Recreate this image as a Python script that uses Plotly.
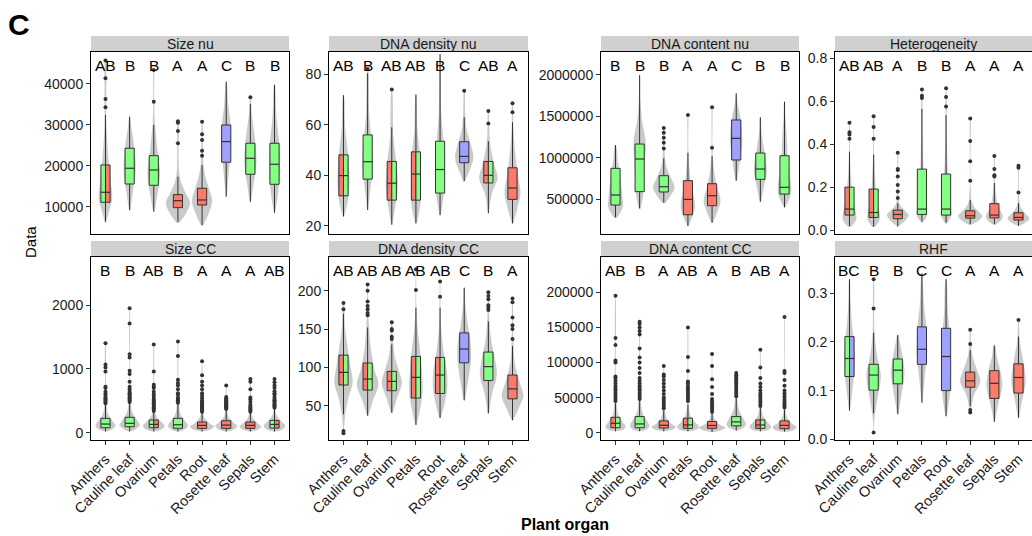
import plotly.graph_objects as go

ORGANS = ["Anthers", "Cauline leaf", "Ovarium", "Petals", "Root", "Rosette leaf", "Sepals", "Stem"]
PANELS = ["Size nu", "DNA density nu", "DNA content nu", "Heterogeneity",
          "Size CC", "DNA density CC", "DNA content CC", "RHF"]

# significance letters shown above each organ
LETTERS = {
    "Size nu":        ["AB", "B", "B", "A", "A", "C", "B", "B"],
    "DNA density nu": ["AB", "B", "AB", "AB", "B", "C", "AB", "A"],
    "DNA content nu": ["B", "B", "B", "A", "A", "C", "B", "B"],
    "Heterogeneity":  ["AB", "AB", "A", "B", "B", "A", "A", "A"],
    "Size CC":        ["B", "B", "AB", "B", "A", "A", "A", "AB"],
    "DNA density CC": ["AB", "AB", "AB", "AB", "AB", "C", "B", "A"],
    "DNA content CC": ["AB", "B", "A", "AB", "A", "B", "AB", "A"],
    "RHF":            ["BC", "B", "B", "C", "C", "A", "A", "A"],
}
# box fill groups (left half / right half when split)
FILLS = {
    "Size nu":        ["BA", "B", "B", "A", "A", "C", "B", "B"],
    "DNA density nu": ["AB", "B", "AB", "AB", "B", "C", "AB", "A"],
    "DNA content nu": ["B", "B", "B", "A", "A", "C", "B", "B"],
    "Heterogeneity":  ["AB", "AB", "A", "B", "B", "A", "A", "A"],
    "Size CC":        ["B", "B", "BA", "B", "A", "A", "A", "BA"],
    "DNA density CC": ["AB", "AB", "AB", "AB", "AB", "C", "B", "A"],
    "DNA content CC": ["AB", "B", "A", "AB", "A", "B", "AB", "A"],
    "RHF":            ["BC", "B", "B", "C", "C", "A", "A", "A"],
}

Q1 = {
    "Size nu":        [11076, 15550, 15230, 9760, 10410, 20860, 17920, 15470],
    "DNA density nu": [31.9, 38.5, 30.2, 30.2, 33.0, 45.0, 37.0, 30.5],
    "DNA content nu": [427e3, 589e3, 585e3, 310e3, 419e3, 972e3, 738e3, 560e3],
    "Heterogeneity":  [0.070, 0.059, 0.053, 0.073, 0.070, 0.056, 0.057, 0.047],
    "Size CC":        [78, 94, 78, 70, 68, 68, 68, 73],
    "DNA density CC": [77, 70.4, 69.6, 60, 66, 106, 83, 59],
    "DNA content CC": [7100, 7100, 6700, 6200, 6200, 9700, 6200, 5700],
    "RHF":            [0.129, 0.101, 0.114, 0.154, 0.100, 0.107, 0.084, 0.095],
}
MED = {
    "Size nu":        [13520, 19390, 18970, 11470, 11640, 25900, 21830, 20370],
    "DNA density nu": [39.9, 45.4, 36.9, 40.5, 42.3, 47.5, 40.0, 35.0],
    "DNA content nu": [548e3, 984e3, 649e3, 496e3, 540e3, 1234e3, 863e3, 641e3],
    "Heterogeneity":  [0.098, 0.082, 0.073, 0.098, 0.098, 0.067, 0.070, 0.059],
    "Size CC":        [136, 147, 130, 125, 115, 120, 115, 130],
    "DNA density CC": [93.5, 84.8, 81.7, 87, 90, 124, 101, 72],
    "DNA content CC": [13400, 12500, 10600, 11000, 10300, 15400, 11000, 10500],
    "RHF":            [0.166, 0.132, 0.142, 0.185, 0.170, 0.120, 0.115, 0.127],
}
Q3 = {
    "Size nu":        [20195, 24280, 22470, 12940, 14500, 29970, 25500, 25500],
    "DNA density nu": [48.1, 56.0, 45.5, 49.3, 53.5, 53.3, 45.5, 43.0],
    "DNA content nu": [871e3, 1165e3, 782e3, 722e3, 685e3, 1456e3, 1056e3, 1024e3],
    "Heterogeneity":  [0.200, 0.191, 0.093, 0.284, 0.261, 0.090, 0.123, 0.081],
    "Size CC":        [225, 241, 199, 225, 167, 188, 167, 193],
    "DNA density CC": [116, 105.7, 94.8, 114.3, 113, 145, 120, 90],
    "DNA content CC": [21900, 23000, 16800, 20700, 16000, 23000, 18200, 16800],
    "RHF":            [0.211, 0.154, 0.165, 0.231, 0.228, 0.138, 0.141, 0.155],
}
LOW = {
    "Size nu":        [6333, 9190, 8780, 6330, 5530, 12450, 11220, 8530],
    "DNA density nu": [23.7, 26.3, 20.5, 21.0, 24.3, 37.8, 25.0, 21.0],
    "DNA content nu": [278e3, 387e3, 456e3, 173e3, 214e3, 722e3, 468e3, 399e3],
    "Heterogeneity":  [0.019, 0.016, 0.016, 0.040, 0.036, 0.028, 0.028, 0.020],
    "Size CC":        [20, 20, 20, 20, 20, 20, 20, 20],
    "DNA density CC": [38.7, 37, 41, 25, 34, 57, 40, 31],
    "DNA content CC": [2000, 2000, 2000, 2000, 1000, 3000, 2000, 1500],
    "RHF":            [0.059, 0.053, 0.052, 0.075, 0.048, 0.068, 0.036, 0.044],
}
UP = {
    "Size nu":        [32420, 32000, 29970, 17340, 20200, 40560, 35110, 39750],
    "DNA density nu": [71.7, 80.4, 59.0, 72.0, 88.0, 63.0, 53.5, 61.0],
    "DNA content nu": [1153e3, 2000e3, 992e3, 1060e3, 1020e3, 1778e3, 1488e3, 1677e3],
    "Heterogeneity":  [0.365, 0.352, 0.125, 0.564, 0.535, 0.140, 0.220, 0.125],
    "Size CC":        [440, 460, 330, 450, 320, 360, 320, 370],
    "DNA density CC": [170, 152, 130, 178, 178, 204, 160, 128],
    "DNA content CC": [42000, 45000, 32000, 40000, 28000, 50000, 36000, 33000],
    "RHF":            [0.329, 0.219, 0.214, 0.341, 0.329, 0.183, 0.192, 0.211],
}
OUTLIERS = {
    "Size nu": [[34300, 36330, 41400, 45700], [], [35670, 43420], [25500, 28510, 30500, 30900],
                [22470, 23690, 26300, 27700, 30780], [], [36750], []],
    "DNA density nu": [[], [82.1], [74.0], [], [], [73.5], [60.5, 65.5], [65.0, 68.5]],
    "DNA content nu": [[], [], [1110e3, 1180e3, 1240e3, 1300e3, 1360e3], [1515e3], [1120e3, 1610e3],
                       [], [], []],
    "Heterogeneity": [[0.425, 0.445, 0.455, 0.50], [0.425, 0.48, 0.53],
                      [0.15, 0.18, 0.21, 0.25, 0.28, 0.285, 0.36], [0.615, 0.625, 0.655],
                      [0.575, 0.62, 0.66], [0.23, 0.32, 0.415, 0.52], [0.25, 0.255, 0.285, 0.345],
                      [0.175, 0.29, 0.30]],
    "Size CC": [[460, 480, 500, 520, 540, 560, 590, 610, 640, 700, 720, 960, 1020, 1070, 1400],
                [480, 500, 520, 540, 560, 580, 600, 620, 640, 680, 720, 800, 920, 970, 1180, 1230, 1710, 1950],
                [340, 360, 380, 400, 420, 440, 460, 480, 500, 520, 560, 600, 640, 700, 720, 750, 960, 1380],
                [470, 490, 510, 530, 550, 600, 620, 680, 740, 780, 830, 1200, 1430],
                [330, 345, 360, 375, 390, 405, 420, 440, 460, 480, 500, 540, 580, 620, 680, 740, 800, 900, 1120],
                [370, 385, 400, 415, 430, 445, 460, 475, 490, 505, 520, 540, 560, 740],
                [330, 350, 370, 390, 410, 440, 480, 520, 550, 680, 800, 840],
                [390, 410, 430, 450, 470, 490, 510, 530, 560, 600, 620, 650, 700, 740, 790, 840]],
    "DNA density CC": [[176, 184, 17, 14], [168, 171, 176, 180, 186, 200, 208], [137, 140, 148, 150, 159],
                       [201, 228], [192, 212], [], [175, 178, 181, 189, 193, 198],
                       [137, 150, 155, 165, 185, 190]],
    "DNA content CC": [[45e3, 48e3, 51e3, 54e3, 57e3, 60e3, 63e3, 66e3, 70e3, 74e3, 78e3, 80e3, 100e3, 103e3, 125e3, 135e3, 195e3],
                       [48e3, 51e3, 54e3, 57e3, 60e3, 63e3, 66e3, 70e3, 74e3, 78e3, 85e3, 92e3, 100e3, 107e3, 120e3, 140e3, 145e3, 150e3, 155e3, 158e3],
                       [35e3, 38e3, 41e3, 44e3, 47e3, 50e3, 55e3, 60e3, 65e3, 70e3, 75e3, 80e3, 83e3, 95e3],
                       [45e3, 48e3, 51e3, 54e3, 57e3, 60e3, 63e3, 66e3, 70e3, 73e3, 88e3, 108e3, 150e3],
                       [30e3, 33e3, 36e3, 39e3, 42e3, 45e3, 48e3, 55e3, 65e3, 76e3, 95e3, 112e3],
                       [52e3, 55e3, 58e3, 61e3, 64e3, 67e3, 70e3, 73e3, 76e3, 79e3, 82e3, 85e3],
                       [38e3, 41e3, 44e3, 47e3, 50e3, 53e3, 56e3, 60e3, 65e3, 70e3, 78e3, 93e3, 118e3],
                       [36e3, 39e3, 42e3, 45e3, 48e3, 52e3, 56e3, 60e3, 67e3, 75e3, 85e3, 88e3, 165e3]],
    "RHF": [[], [0.014, 0.269, 0.329], [], [], [], [0.055, 0.060, 0.196, 0.225], [], [0.245]],
}

# violin outlines: value knots and half-widths (category units)
VIOLIN_Y = {
    "Size nu": [[6000, 9000, 12000, 16000, 22000, 30000, 46000],
                [9000, 13000, 19000, 25000, 29000, 32000],
                [8800, 13000, 18000, 24000, 30000, 36000, 44000],
                [6000, 8000, 11000, 13500, 17000, 22000, 31000],
                [5300, 8000, 11500, 14500, 19000, 25000, 31000],
                [12400, 18000, 25000, 30000, 35000, 40500],
                [11000, 15000, 21000, 27000, 33000, 37000],
                [8500, 12000, 18000, 25000, 32000, 40000]],
    "DNA density nu": [[24, 30, 38, 47, 58, 72], [26.5, 35, 44, 55, 65, 82], [20.5, 28, 35, 44, 55, 74],
                       [21, 28, 38, 48, 58, 72], [24, 32, 42, 52, 65, 88], [37.5, 42, 47, 52, 58, 65, 73],
                       [25, 33, 39, 44, 52, 60, 66], [21, 27, 33, 40, 50, 60, 69]],
    "DNA content nu": [[270e3, 400e3, 550e3, 750e3, 950e3, 1150e3],
                       [380e3, 550e3, 900e3, 1200e3, 1450e3, 1700e3, 2000e3],
                       [450e3, 550e3, 640e3, 750e3, 900e3, 1100e3, 1360e3],
                       [170e3, 300e3, 420e3, 600e3, 800e3, 1100e3, 1520e3],
                       [210e3, 350e3, 480e3, 650e3, 850e3, 1100e3, 1610e3],
                       [720e3, 950e3, 1200e3, 1450e3, 1650e3, 1780e3],
                       [460e3, 650e3, 850e3, 1050e3, 1300e3, 1490e3],
                       [400e3, 550e3, 650e3, 900e3, 1200e3, 1500e3, 1680e3]],
    "Heterogeneity": [[0.015, 0.05, 0.09, 0.15, 0.25, 0.36, 0.50],
                      [0.015, 0.05, 0.08, 0.15, 0.25, 0.35, 0.53],
                      [0.02, 0.05, 0.07, 0.09, 0.12, 0.20, 0.36],
                      [0.035, 0.07, 0.10, 0.20, 0.30, 0.45, 0.66],
                      [0.03, 0.07, 0.10, 0.20, 0.30, 0.45, 0.66],
                      [0.025, 0.05, 0.065, 0.085, 0.12, 0.20, 0.52],
                      [0.025, 0.05, 0.065, 0.09, 0.14, 0.22, 0.345],
                      [0.02, 0.04, 0.055, 0.075, 0.11, 0.18, 0.30]],
    "Size CC": [[20, 60, 110, 180, 300, 500, 800, 1400],
                [20, 70, 120, 200, 330, 550, 1000, 1950],
                [20, 60, 110, 170, 280, 500, 1380],
                [20, 60, 110, 180, 300, 500, 800, 1430],
                [20, 60, 100, 150, 250, 450, 1120],
                [20, 60, 110, 160, 260, 450, 740],
                [20, 60, 100, 150, 250, 450, 840],
                [20, 60, 110, 170, 280, 500, 840]],
    "DNA density CC": [[14, 40, 60, 80, 100, 125, 150, 184],
                       [37, 55, 78, 95, 120, 150, 180, 208],
                       [41, 60, 80, 95, 115, 140, 160],
                       [25, 50, 70, 95, 120, 150, 180, 228],
                       [34, 55, 75, 95, 120, 150, 178, 212],
                       [57, 80, 110, 130, 155, 180, 204],
                       [40, 65, 90, 110, 135, 165, 198],
                       [31, 50, 63, 80, 105, 140, 190]],
    "DNA content CC": [[2e3, 5e3, 9e3, 15e3, 25e3, 45e3, 80e3, 195e3],
                       [2e3, 5e3, 10e3, 17e3, 28e3, 50e3, 90e3, 158e3],
                       [2e3, 5e3, 8e3, 13e3, 22e3, 40e3, 95e3],
                       [2e3, 5e3, 9e3, 15e3, 25e3, 45e3, 150e3],
                       [1e3, 4e3, 7e3, 12e3, 20e3, 40e3, 112e3],
                       [3e3, 7e3, 12e3, 20e3, 32e3, 55e3, 85e3],
                       [2e3, 5e3, 9e3, 15e3, 25e3, 45e3, 118e3],
                       [1.5e3, 4e3, 8e3, 13e3, 22e3, 40e3, 165e3]],
    "RHF": [[0.058, 0.10, 0.15, 0.19, 0.24, 0.29, 0.33],
            [0.014, 0.05, 0.09, 0.13, 0.17, 0.22, 0.33],
            [0.05, 0.09, 0.135, 0.17, 0.20, 0.215],
            [0.075, 0.13, 0.18, 0.23, 0.28, 0.34],
            [0.045, 0.09, 0.14, 0.20, 0.26, 0.33],
            [0.055, 0.09, 0.12, 0.14, 0.17, 0.20, 0.225],
            [0.035, 0.07, 0.11, 0.14, 0.17, 0.195],
            [0.043, 0.08, 0.12, 0.16, 0.20, 0.245]],
}
VIOLIN_W = {
    "Size nu": [[0.02, 0.15, 0.28, 0.22, 0.12, 0.04, 0.008],
                [0.02, 0.12, 0.25, 0.18, 0.08, 0.01],
                [0.02, 0.15, 0.26, 0.15, 0.05, 0.02, 0.005],
                [0.05, 0.30, 0.50, 0.30, 0.08, 0.03, 0.01],
                [0.03, 0.25, 0.42, 0.28, 0.08, 0.03, 0.01],
                [0.02, 0.10, 0.20, 0.18, 0.08, 0.01],
                [0.02, 0.12, 0.25, 0.18, 0.05, 0.01],
                [0.02, 0.12, 0.22, 0.20, 0.08, 0.01]],
    "DNA density nu": [[0.03, 0.18, 0.25, 0.20, 0.08, 0.01], [0.02, 0.12, 0.22, 0.15, 0.06, 0.01],
                       [0.02, 0.15, 0.25, 0.20, 0.07, 0.01], [0.02, 0.18, 0.20, 0.17, 0.06, 0.01],
                       [0.02, 0.15, 0.20, 0.15, 0.05, 0.005], [0.03, 0.22, 0.38, 0.28, 0.10, 0.04, 0.01],
                       [0.02, 0.15, 0.38, 0.25, 0.08, 0.03, 0.01], [0.03, 0.20, 0.33, 0.22, 0.10, 0.03, 0.01]],
    "DNA content nu": [[0.05, 0.30, 0.28, 0.20, 0.10, 0.02],
                       [0.03, 0.15, 0.20, 0.25, 0.10, 0.03, 0.005],
                       [0.05, 0.30, 0.45, 0.30, 0.10, 0.03, 0.01],
                       [0.02, 0.20, 0.30, 0.20, 0.08, 0.02, 0.005],
                       [0.03, 0.22, 0.35, 0.20, 0.08, 0.02, 0.005],
                       [0.03, 0.15, 0.25, 0.20, 0.06, 0.01],
                       [0.02, 0.15, 0.27, 0.18, 0.05, 0.01],
                       [0.03, 0.25, 0.28, 0.15, 0.10, 0.04, 0.01]],
    "Heterogeneity": [[0.05, 0.28, 0.25, 0.15, 0.06, 0.02, 0.005],
                      [0.05, 0.25, 0.25, 0.12, 0.06, 0.02, 0.005],
                      [0.05, 0.35, 0.45, 0.30, 0.08, 0.02, 0.005],
                      [0.03, 0.22, 0.20, 0.10, 0.06, 0.03, 0.005],
                      [0.03, 0.22, 0.20, 0.10, 0.06, 0.03, 0.005],
                      [0.05, 0.40, 0.50, 0.35, 0.10, 0.02, 0.005],
                      [0.05, 0.30, 0.35, 0.25, 0.10, 0.03, 0.005],
                      [0.05, 0.35, 0.45, 0.30, 0.08, 0.02, 0.005]],
    "Size CC": [[0.05, 0.30, 0.42, 0.30, 0.10, 0.04, 0.02, 0.005],
                [0.05, 0.30, 0.42, 0.30, 0.10, 0.04, 0.015, 0.003],
                [0.05, 0.35, 0.45, 0.30, 0.08, 0.03, 0.003],
                [0.05, 0.30, 0.42, 0.30, 0.10, 0.04, 0.02, 0.003],
                [0.05, 0.40, 0.50, 0.30, 0.08, 0.03, 0.003],
                [0.05, 0.35, 0.45, 0.30, 0.08, 0.03, 0.005],
                [0.05, 0.35, 0.45, 0.30, 0.08, 0.03, 0.005],
                [0.05, 0.35, 0.45, 0.30, 0.08, 0.03, 0.005]],
    "DNA density CC": [[0.01, 0.08, 0.20, 0.38, 0.30, 0.18, 0.07, 0.01],
                       [0.03, 0.20, 0.45, 0.30, 0.15, 0.06, 0.02, 0.005],
                       [0.04, 0.22, 0.42, 0.30, 0.12, 0.04, 0.01],
                       [0.02, 0.20, 0.28, 0.25, 0.18, 0.07, 0.02, 0.003],
                       [0.03, 0.20, 0.30, 0.28, 0.15, 0.05, 0.02, 0.003],
                       [0.03, 0.15, 0.28, 0.27, 0.15, 0.05, 0.01],
                       [0.03, 0.15, 0.35, 0.28, 0.12, 0.04, 0.005],
                       [0.03, 0.30, 0.45, 0.30, 0.10, 0.03, 0.005]],
    "DNA content CC": [[0.05, 0.35, 0.42, 0.30, 0.12, 0.04, 0.02, 0.003],
                       [0.05, 0.30, 0.40, 0.30, 0.12, 0.04, 0.015, 0.003],
                       [0.05, 0.40, 0.50, 0.30, 0.10, 0.03, 0.003],
                       [0.05, 0.38, 0.45, 0.30, 0.10, 0.03, 0.003],
                       [0.05, 0.40, 0.55, 0.30, 0.10, 0.02, 0.003],
                       [0.05, 0.30, 0.40, 0.30, 0.12, 0.03, 0.005],
                       [0.05, 0.38, 0.45, 0.30, 0.10, 0.03, 0.003],
                       [0.05, 0.40, 0.50, 0.30, 0.10, 0.03, 0.002]],
    "RHF": [[0.02, 0.12, 0.22, 0.20, 0.10, 0.04, 0.01],
            [0.005, 0.05, 0.18, 0.30, 0.15, 0.04, 0.005],
            [0.02, 0.15, 0.28, 0.20, 0.08, 0.02],
            [0.02, 0.12, 0.22, 0.18, 0.08, 0.01],
            [0.02, 0.15, 0.20, 0.18, 0.08, 0.01],
            [0.02, 0.15, 0.42, 0.30, 0.10, 0.03, 0.01],
            [0.02, 0.15, 0.33, 0.25, 0.10, 0.02],
            [0.02, 0.15, 0.30, 0.20, 0.06, 0.005]],
}

YTICKS = {
    "Size nu": [10000, 20000, 30000, 40000],
    "DNA density nu": [20, 40, 60, 80],
    "DNA content nu": [500000, 1000000, 1500000, 2000000],
    "Heterogeneity": [0.0, 0.2, 0.4, 0.6, 0.8],
    "Size CC": [0, 1000, 2000],
    "DNA density CC": [50, 100, 150, 200],
    "DNA content CC": [0, 50000, 100000, 150000, 200000],
    "RHF": [0.0, 0.1, 0.2, 0.3],
}
YTICKTEXT = {
    "Size nu": ["10000", "20000", "30000", "40000"],
    "DNA density nu": ["20", "40", "60", "80"],
    "DNA content nu": ["500000", "1000000", "1500000", "2000000"],
    "Heterogeneity": ["0.0", "0.2", "0.4", "0.6", "0.8"],
    "Size CC": ["0", "1000", "2000"],
    "DNA density CC": ["50", "100", "150", "200"],
    "DNA content CC": ["0", "50000", "100000", "150000", "200000"],
    "RHF": ["0.0", "0.1", "0.2", "0.3"],
}
YRANGE = {
    "Size nu": [3325, 47800],
    "DNA density nu": [16.8, 88.8],
    "DNA content nu": [77000, 2278000],
    "Heterogeneity": [-0.018, 0.829],
    "Size CC": [-114, 2752],
    "DNA density CC": [5.3, 244],
    "DNA content CC": [-10400, 250300],
    "RHF": [-0.0015, 0.3746],
}

# ---------------- styling / layout ----------------
W, H = 1032, 536
FONT = "Liberation Sans, Arial, sans-serif"
GROUP_COLORS = {"A": "#FA7B6C", "B": "#84FF84", "C": "#A0A0FF"}
DARK = "#333333"
VIOLIN_FILL = "rgba(150,150,150,0.5)"
BOX_W = 0.38
COLS_PX = [(91, 289), (329, 528), (601, 799), (835, 1032)]
ROWS_PX = [(52, 234), (257, 440)]
STRIP_H = 16
UNIT_PX = 198 / 8.2

fig = go.Figure()
layout = dict(
    width=W, height=H, margin=dict(l=0, r=0, t=0, b=0, autoexpand=False),
    paper_bgcolor="white", plot_bgcolor="white", showlegend=False,
    font=dict(family=FONT, color="#1a1a1a"),
)
annotations = []
shapes = []

for i, p in enumerate(PANELS):
    r, c = divmod(i, 4)
    sfx = "" if i == 0 else str(i + 1)
    xa, ya = f"x{sfx}", f"y{sfx}"
    x0p, x1p = COLS_PX[c]
    y0p, y1p = ROWS_PX[r]
    xdom = [x0p / W, x1p / W]
    ydom = [1 - y1p / H, 1 - y0p / H]
    xmax = 0.4 + (x1p - x0p) / UNIT_PX
    pos = list(range(1, len(ORGANS) + 1))

    layout[f"xaxis{sfx}"] = dict(
        domain=xdom, anchor=ya, range=[0.4, xmax], tickmode="array",
        tickvals=pos, ticktext=ORGANS, showticklabels=(r == 1),
        ticks="outside" if r == 1 else "", ticklen=4, tickcolor=DARK,
        tickangle=-45, tickfont=dict(size=14.5, color="#1a1a1a"),
        showline=True, linecolor="black", linewidth=1, mirror=True,
        showgrid=False, zeroline=False, fixedrange=True, automargin=False,
    )
    layout[f"yaxis{sfx}"] = dict(
        domain=ydom, anchor=xa, range=YRANGE[p], tickmode="array",
        tickvals=YTICKS[p], ticktext=YTICKTEXT[p], ticks="outside", ticklen=4,
        tickcolor=DARK, tickfont=dict(size=14, color="#1a1a1a"),
        showline=True, linecolor="black", linewidth=1, mirror=(c != 3),
        showgrid=False, zeroline=False, fixedrange=True, automargin=False,
    )

    # violins
    for j, xp in enumerate(pos):
        vy = VIOLIN_Y[p][j]
        vw = VIOLIN_W[p][j]
        xs = [xp + w for w in vw] + [xp - w for w in vw[::-1]]
        ys = list(vy) + list(vy[::-1])
        fig.add_trace(go.Scatter(
            x=xs, y=ys, mode="lines", fill="toself", fillcolor=VIOLIN_FILL,
            line=dict(width=0, shape="spline", smoothing=1),
            xaxis=xa, yaxis=ya, hoverinfo="skip",
        ))

    # whiskers
    wx, wy = [], []
    for j, xp in enumerate(pos):
        wx += [xp, xp, None, xp, xp, None]
        wy += [LOW[p][j], Q1[p][j], None, Q3[p][j], UP[p][j], None]
    fig.add_trace(go.Scatter(x=wx, y=wy, mode="lines", line=dict(color=DARK, width=1),
                             xaxis=xa, yaxis=ya, hoverinfo="skip"))

    # boxes (split into halves when two groups)
    for j, xp in enumerate(pos):
        f = FILLS[p][j]
        half = BOX_W / 2
        if len(f) == 1:
            parts = [(xp - half, xp + half, f)]
        else:
            parts = [(xp - half, xp, f[0]), (xp, xp + half, f[1])]
        for bx0, bx1, g in parts:
            fig.add_trace(go.Scatter(
                x=[bx0, bx1, bx1, bx0, bx0],
                y=[Q1[p][j], Q1[p][j], Q3[p][j], Q3[p][j], Q1[p][j]],
                mode="lines", fill="toself", fillcolor=GROUP_COLORS[g],
                line=dict(color=DARK, width=1), xaxis=xa, yaxis=ya, hoverinfo="skip",
            ))
        fig.add_trace(go.Scatter(
            x=[xp - half, xp + half], y=[MED[p][j], MED[p][j]], mode="lines",
            line=dict(color=DARK, width=1.2), xaxis=xa, yaxis=ya, hoverinfo="skip",
        ))

    # outliers
    ox, oy = [], []
    for j, xp in enumerate(pos):
        for v in OUTLIERS[p][j]:
            ox.append(xp)
            oy.append(v)
    fig.add_trace(go.Scatter(x=ox, y=oy, mode="markers",
                             marker=dict(size=4, color=DARK),
                             xaxis=xa, yaxis=ya, hoverinfo="skip"))

    # letters
    for j, xp in enumerate(pos):
        annotations.append(dict(
            x=xp, y=0.928, xref=xa, yref=f"{ya} domain", text=LETTERS[p][j],
            showarrow=False, font=dict(size=15.5, color="black", family=FONT),
            xanchor="center", yanchor="middle",
        ))

    # strip
    shapes.append(dict(type="rect", xref="paper", yref="paper",
                       x0=xdom[0], x1=xdom[1], y0=ydom[1], y1=ydom[1] + STRIP_H / H,
                       fillcolor="#D0D0D0", line=dict(width=0), layer="below"))
    annotations.append(dict(
        x=(xdom[0] + xdom[1]) / 2, y=ydom[1] + STRIP_H / (2 * H), xref="paper", yref="paper",
        text=p, showarrow=False, font=dict(size=14, color="#1a1a1a", family=FONT),
        xanchor="center", yanchor="middle",
    ))

annotations.append(dict(x=30 / W, y=1 - 242 / H, xref="paper", yref="paper", text="Data",
                        textangle=-90, showarrow=False, font=dict(size=15, color="black", family=FONT),
                        xanchor="center", yanchor="middle"))
annotations.append(dict(x=565 / W, y=1 - 524 / H, xref="paper", yref="paper",
                        text="<b>Plant organ</b>", showarrow=False,
                        font=dict(size=16, color="black", family=FONT),
                        xanchor="center", yanchor="middle"))
annotations.append(dict(x=19 / W, y=1 - 24 / H, xref="paper", yref="paper",
                        text="<b>C</b>", showarrow=False,
                        font=dict(size=30, color="black", family=FONT),
                        xanchor="center", yanchor="middle"))

layout["annotations"] = annotations
layout["shapes"] = shapes
fig.update_layout(**layout)
fig.write_html(
    "out.html",
    config={"displayModeBar": False, "staticPlot": True},
    post_script="document.body.style.margin='0';document.body.style.overflow='hidden';",
)
